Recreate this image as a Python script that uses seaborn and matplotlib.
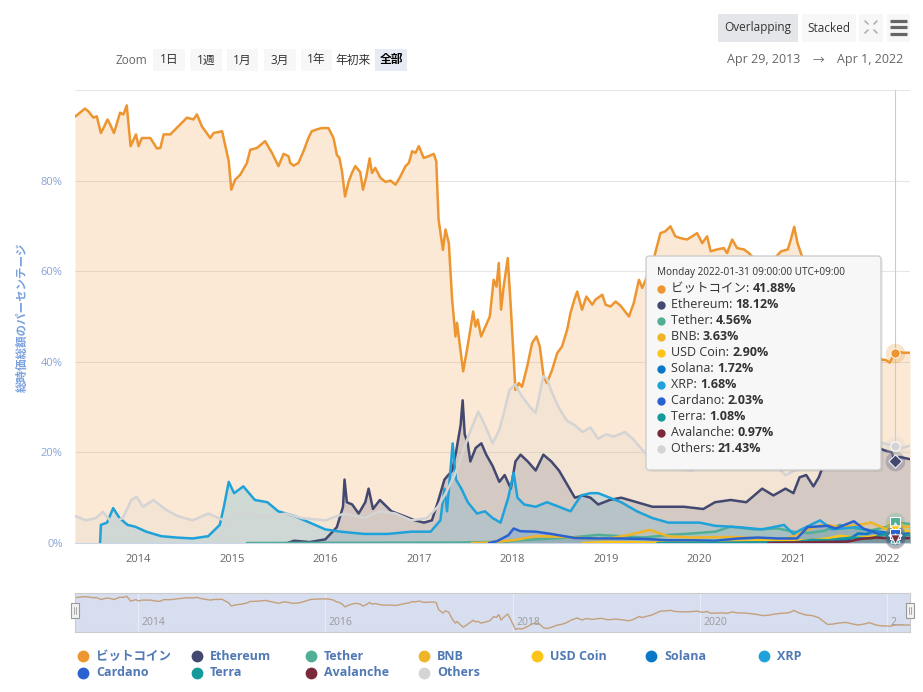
import numpy as np
import pandas as pd
import matplotlib
matplotlib.use('Agg')
import matplotlib.pyplot as plt
import matplotlib.dates as mdates
from matplotlib.patches import Rectangle, FancyBboxPatch
import seaborn as sns

sns.set_style('white')
plt.rcParams['font.family'] = ['Open Sans', 'Noto Sans CJK JP', 'DejaVu Sans']

# ---------------- data: share of total market cap (%) ----------------
btc_dates = ['2013-04-29', '2013-06-07', '2013-06-20', '2013-07-10', '2013-07-23', '2013-08-08',
             '2013-08-18', '2013-09-03', '2013-09-13', '2013-09-28', '2013-10-22', '2013-11-04',
             '2013-11-17', '2013-12-02', '2013-12-23', '2014-01-02', '2014-01-15', '2014-02-17',
             '2014-03-15', '2014-03-28', '2014-04-10', '2014-05-06', '2014-06-14', '2014-07-10',
             '2014-08-04', '2014-08-18', '2014-09-06', '2014-10-09', '2014-10-22', '2014-11-24',
             '2014-12-20', '2014-12-30', '2015-01-14', '2015-02-03', '2015-03-01', '2015-03-14',
             '2015-04-09', '2015-05-11', '2015-06-07', '2015-07-02', '2015-07-22', '2015-08-10',
             '2015-08-17', '2015-08-30', '2015-09-18', '2015-10-08', '2015-10-27', '2015-11-09',
             '2015-11-29', '2015-12-18', '2016-01-13', '2016-02-02', '2016-02-15', '2016-02-25',
             '2016-03-06', '2016-03-18', '2016-04-01', '2016-04-14', '2016-04-27', '2016-05-16',
             '2016-05-27', '2016-06-09', '2016-06-22', '2016-07-01', '2016-07-14', '2016-08-03',
             '2016-08-23', '2016-09-11', '2016-10-01', '2016-10-20', '2016-11-09', '2016-11-22',
             '2016-12-05', '2016-12-18', '2016-12-31', '2017-01-19', '2017-02-08', '2017-02-27',
             '2017-03-09', '2017-03-18', '2017-04-04', '2017-04-14', '2017-04-27', '2017-05-10',
             '2017-05-23', '2017-05-29', '2017-06-08', '2017-06-22', '2017-07-07', '2017-07-20',
             '2017-07-31', '2017-08-09', '2017-08-18', '2017-08-31', '2017-09-17', '2017-10-04',
             '2017-10-19', '2017-10-30', '2017-11-08', '2017-11-17', '2017-11-27', '2017-12-13',
             '2017-12-24', '2018-01-12', '2018-01-25', '2018-02-07', '2018-02-27', '2018-03-18',
             '2018-04-04', '2018-04-17', '2018-05-02', '2018-05-15', '2018-06-04', '2018-06-24',
             '2018-07-13', '2018-08-02', '2018-08-15', '2018-08-30', '2018-09-10', '2018-09-29',
             '2018-10-16', '2018-11-08', '2018-11-20', '2018-12-17', '2018-12-30', '2019-01-18',
             '2019-02-07', '2019-02-26', '2019-03-31', '2019-04-19', '2019-05-09', '2019-05-22',
             '2019-06-10', '2019-06-29', '2019-07-12', '2019-08-01', '2019-08-20', '2019-09-09',
             '2019-09-28', '2019-10-18', '2019-11-13', '2019-12-03', '2019-12-22', '2020-01-11',
             '2020-01-30', '2020-02-13', '2020-03-09', '2020-04-04', '2020-04-17', '2020-05-07',
             '2020-05-26', '2020-06-22', '2020-07-11', '2020-08-12', '2020-09-05', '2020-09-28',
             '2020-10-22', '2020-11-14', '2020-12-10', '2020-12-22', '2021-01-04', '2021-01-17',
             '2021-01-30', '2021-02-20', '2021-03-15', '2021-04-10', '2021-04-28', '2021-05-15',
             '2021-06-05', '2021-07-01', '2021-07-25', '2021-08-20', '2021-09-10', '2021-10-05',
             '2021-10-25', '2021-11-20', '2021-12-10', '2021-12-28', '2022-01-12', '2022-01-31',
             '2022-02-15', '2022-03-05', '2022-04-01']
btc_pct = [94.1, 95.9, 95.3, 93.9, 94.2, 90.5, 91.6, 93.5, 92.4, 90.5, 95.0, 94.6,
           96.6, 87.6, 90.2, 87.6, 89.4, 89.4, 87.1, 87.2, 90.2, 90.2, 92.4, 93.9,
           93.5, 94.6, 92.0, 89.4, 90.5, 90.9, 84.3, 78.0, 80.2, 81.3, 83.9, 86.8,
           87.2, 88.7, 86.1, 83.2, 85.9, 85.4, 83.9, 83.3, 83.9, 86.5, 89.4, 90.9,
           91.3, 91.6, 91.6, 89.4, 85.7, 85.0, 82.1, 76.5, 79.8, 81.7, 83.2, 81.9,
           78.0, 80.9, 84.9, 81.7, 82.8, 80.6, 79.7, 80.0, 79.1, 80.9, 83.2, 83.9,
           86.5, 86.1, 87.6, 85.0, 85.4, 85.9, 84.3, 71.4, 64.7, 69.2, 66.2, 53.7,
           45.6, 48.6, 44.1, 37.9, 42.7, 47.1, 51.1, 47.8, 49.3, 45.6, 47.8, 50.0,
           58.1, 56.6, 61.8, 51.5, 56.6, 62.9, 53.0, 33.8, 35.3, 34.5, 39.0, 44.1,
           45.6, 43.4, 36.8, 35.3, 38.2, 41.9, 43.4, 47.1, 50.8, 53.7, 55.5, 51.5,
           54.4, 52.6, 53.7, 54.8, 52.6, 52.2, 53.3, 52.4, 50.0, 53.0, 58.1, 56.3,
           58.9, 61.1, 64.1, 68.4, 68.8, 69.9, 67.7, 67.3, 67.0, 67.7, 68.4, 66.2,
           67.7, 64.4, 64.8, 65.1, 64.0, 67.0, 65.1, 64.8, 64.0, 62.1, 59.9, 60.8,
           63.0, 64.4, 64.8, 67.0, 69.8, 66.2, 64.0, 61.0, 60.0, 56.0, 49.0, 43.0,
           44.0, 46.0, 47.0, 44.0, 42.0, 44.0, 46.5, 42.0, 40.5, 40.4, 39.8, 41.88,
           42.2, 42.0, 42.0]

eth_dates = ['2015-08-07', '2015-09-01', '2015-11-01', '2016-01-01', '2016-02-15', '2016-03-10',
             '2016-03-16', '2016-03-25', '2016-04-15', '2016-05-10', '2016-06-05', '2016-06-18',
             '2016-07-05', '2016-08-01', '2016-09-15', '2016-11-01', '2016-12-15', '2017-01-20',
             '2017-02-20', '2017-03-15', '2017-04-10', '2017-05-10', '2017-05-25', '2017-06-12',
             '2017-06-20', '2017-06-28', '2017-07-10', '2017-07-20', '2017-08-10', '2017-09-01',
             '2017-09-20', '2017-10-15', '2017-11-10', '2017-12-01', '2017-12-25', '2018-01-12',
             '2018-02-01', '2018-03-01', '2018-04-01', '2018-05-01', '2018-06-01', '2018-07-01',
             '2018-08-01', '2018-09-01', '2018-10-01', '2018-11-01', '2018-12-01', '2019-01-15',
             '2019-03-01', '2019-05-01', '2019-07-01', '2019-09-01', '2019-11-01', '2020-01-15',
             '2020-03-01', '2020-05-01', '2020-07-01', '2020-09-01', '2020-10-15', '2020-12-01',
             '2021-01-01', '2021-01-25', '2021-02-20', '2021-03-20', '2021-04-10', '2021-05-10',
             '2021-06-01', '2021-07-15', '2021-09-01', '2021-11-10', '2021-12-20', '2022-01-20',
             '2022-01-31', '2022-02-20', '2022-04-01']
eth_pct = [0.0, 0.5, 0.2, 0.8, 3.5, 8.0, 14.0, 9.0, 8.5, 6.5, 9.0, 12.0,
           7.5, 9.5, 7.0, 6.0, 5.0, 4.5, 5.0, 9.0, 14.0, 16.0, 20.0, 26.0,
           31.5, 24.0, 22.0, 18.0, 21.0, 22.0, 19.5, 17.0, 13.5, 15.0, 12.0, 18.0,
           19.5, 18.0, 16.0, 19.5, 18.0, 16.0, 13.0, 10.0, 10.5, 10.0, 8.5, 9.5,
           10.0, 9.0, 8.0, 8.0, 8.0, 7.5, 9.0, 9.5, 9.0, 12.0, 10.5, 12.0,
           11.0, 14.5, 15.0, 12.5, 14.5, 19.0, 18.0, 17.0, 20.0, 21.5, 20.5, 20.0,
           18.12, 19.0, 18.5]

usdt_dates = ['2015-03-01', '2017-06-01', '2017-12-01', '2018-02-01', '2018-06-01', '2018-09-01',
              '2018-12-01', '2019-03-01', '2019-06-01', '2019-09-01', '2019-12-01', '2020-03-01',
              '2020-05-01', '2020-08-01', '2020-11-01', '2021-01-01', '2021-03-01', '2021-05-01',
              '2021-07-01', '2021-09-01', '2021-11-01', '2022-01-01', '2022-01-31', '2022-04-01']
usdt_pct = [0.0, 0.1, 0.3, 0.6, 1.0, 1.3, 1.8, 1.5, 1.2, 1.8, 2.1, 2.5,
            3.6, 3.0, 3.2, 2.5, 2.2, 2.7, 4.0, 3.2, 2.8, 3.6, 4.56, 4.2]

bnb_dates = ['2017-07-25', '2017-10-01', '2018-01-15', '2018-04-01', '2018-07-01', '2018-10-01',
             '2019-01-01', '2019-04-01', '2019-06-20', '2019-09-01', '2019-12-01', '2020-03-01',
             '2020-06-01', '2020-09-01', '2020-12-01', '2021-02-20', '2021-05-01', '2021-07-01',
             '2021-09-01', '2021-11-01', '2022-01-01', '2022-01-31', '2022-04-01']
bnb_pct = [0.0, 0.1, 0.7, 1.5, 1.4, 1.1, 0.9, 1.8, 2.9, 1.5, 1.2, 1.3,
           1.3, 0.9, 0.8, 2.9, 4.1, 3.5, 3.9, 4.5, 3.0, 3.63, 3.6]

usdc_dates = ['2018-10-01', '2019-01-01', '2019-07-01', '2020-01-01', '2020-07-01', '2020-11-01',
              '2021-01-01', '2021-03-01', '2021-05-15', '2021-07-01', '2021-09-01', '2021-11-01',
              '2022-01-01', '2022-01-31', '2022-04-01']
usdc_pct = [0.0, 0.2, 0.1, 0.2, 0.4, 0.7, 0.5, 0.6, 1.0, 1.6, 1.2, 1.4, 2.2, 2.90, 2.6]

sol_dates = ['2020-04-10', '2020-08-01', '2020-11-01', '2021-01-01', '2021-03-15', '2021-06-01',
             '2021-08-01', '2021-09-10', '2021-10-15', '2021-11-10', '2021-12-20', '2022-01-31',
             '2022-04-01']
sol_pct = [0.0, 0.1, 0.1, 0.1, 0.3, 0.5, 0.6, 2.1, 2.0, 2.6, 2.4, 1.72, 2.1]

xrp_dates = ['2013-08-05', '2013-08-08', '2013-09-01', '2013-09-25', '2013-10-20', '2013-11-20',
             '2013-12-20', '2014-02-01', '2014-04-01', '2014-06-01', '2014-08-01', '2014-10-01',
             '2014-11-15', '2014-12-01', '2014-12-20', '2015-01-10', '2015-02-15', '2015-04-01',
             '2015-05-20', '2015-07-01', '2015-09-01', '2015-11-01', '2016-01-01', '2016-03-01',
             '2016-06-01', '2016-09-01', '2016-12-01', '2017-02-15', '2017-03-25', '2017-04-10',
             '2017-04-20', '2017-05-12', '2017-05-25', '2017-06-15', '2017-07-10', '2017-08-15',
             '2017-09-15', '2017-10-15', '2017-11-15', '2017-12-15', '2018-01-05', '2018-01-20',
             '2018-02-15', '2018-04-01', '2018-05-15', '2018-07-01', '2018-08-15', '2018-09-25',
             '2018-11-01', '2018-12-01', '2019-01-15', '2019-03-01', '2019-05-01', '2019-07-01',
             '2019-09-01', '2019-11-01', '2020-01-01', '2020-03-01', '2020-06-01', '2020-09-01',
             '2020-11-25', '2021-01-01', '2021-02-01', '2021-04-15', '2021-06-01', '2021-09-01',
             '2021-11-01', '2022-01-31', '2022-04-01']
xrp_pct = [0.0, 4.0, 4.5, 7.7, 5.5, 4.0, 3.6, 2.5, 1.5, 1.2, 1.0, 1.5,
           4.0, 8.0, 13.5, 11.0, 12.5, 9.5, 9.0, 7.0, 6.0, 4.5, 3.0, 2.5,
           2.0, 2.0, 2.5, 2.5, 5.0, 12.0, 7.0, 22.0, 14.0, 12.0, 9.0, 6.5,
           7.0, 5.5, 4.5, 10.0, 15.5, 10.0, 8.5, 8.0, 9.0, 8.0, 7.0, 10.5,
           11.0, 11.0, 10.0, 9.0, 7.0, 5.5, 4.5, 4.5, 4.5, 3.8, 3.5, 3.0,
           4.0, 2.0, 3.0, 5.0, 3.0, 3.5, 2.5, 1.68, 1.9]

ada_dates = ['2017-10-01', '2017-11-01', '2017-12-15', '2018-01-05', '2018-02-01', '2018-04-01',
             '2018-06-01', '2018-09-01', '2018-12-01', '2019-03-01', '2019-06-01', '2019-09-01',
             '2019-12-01', '2020-03-01', '2020-06-01', '2020-08-15', '2020-11-01', '2021-01-15',
             '2021-02-25', '2021-05-15', '2021-06-15', '2021-08-25', '2021-10-01', '2021-12-01',
             '2022-01-31', '2022-04-01']
ada_pct = [0.0, 0.4, 1.7, 3.2, 2.6, 2.5, 2.0, 1.1, 1.0, 1.0, 0.9, 0.6,
           0.6, 0.5, 1.0, 1.2, 1.0, 1.0, 3.5, 3.8, 3.2, 4.8, 3.2, 2.0,
           2.03, 2.0]

luna_dates = ['2019-07-20', '2020-01-01', '2020-07-01', '2021-01-01', '2021-03-15', '2021-05-15',
              '2021-08-15', '2021-11-01', '2021-12-25', '2022-01-31', '2022-04-01']
luna_pct = [0.0, 0.05, 0.05, 0.1, 0.7, 0.6, 1.2, 1.0, 2.0, 1.08, 1.9]

avax_dates = ['2020-09-25', '2021-01-01', '2021-04-01', '2021-08-01', '2021-09-20', '2021-11-20',
              '2022-01-31', '2022-04-01']
avax_pct = [0.0, 0.1, 0.2, 0.3, 0.9, 1.2, 0.97, 1.1]

other_dates = ['2013-04-29', '2013-06-10', '2013-07-20', '2013-08-15', '2013-09-20', '2013-11-01',
               '2013-12-05', '2013-12-25', '2014-01-20', '2014-03-01', '2014-04-15', '2014-06-01',
               '2014-08-01', '2014-10-01', '2014-12-01', '2015-02-01', '2015-04-01', '2015-06-01',
               '2015-08-01', '2015-10-01', '2016-01-01', '2016-03-15', '2016-06-01', '2016-08-01',
               '2016-10-01', '2016-12-01', '2017-02-01', '2017-03-15', '2017-04-15', '2017-05-20',
               '2017-06-20', '2017-07-15', '2017-08-20', '2017-09-15', '2017-10-15', '2017-11-10',
               '2017-11-28', '2017-12-20', '2018-01-10', '2018-02-05', '2018-03-10', '2018-04-01',
               '2018-05-01', '2018-05-15', '2018-06-05', '2018-07-01', '2018-08-01', '2018-09-01',
               '2018-10-01', '2018-11-01', '2018-12-01', '2019-01-01', '2019-02-01', '2019-03-15',
               '2019-04-15', '2019-06-15', '2019-09-01', '2019-12-01', '2020-03-01', '2020-06-01',
               '2020-09-01', '2020-12-01', '2021-02-15', '2021-05-15', '2021-08-01', '2021-10-15',
               '2021-12-20', '2022-01-31', '2022-03-01', '2022-04-01']
other_pct = [6.0, 5.0, 5.5, 6.9, 4.5, 5.5, 9.5, 10.2, 8.0, 9.5, 7.5, 6.0,
             5.0, 6.5, 5.0, 7.0, 6.0, 6.0, 6.5, 5.5, 5.0, 6.5, 5.5, 7.0,
             6.5, 5.0, 5.5, 8.0, 11.0, 15.0, 20.0, 24.0, 29.0, 26.0, 22.0, 25.0,
             28.7, 33.8, 35.0, 32.5, 30.0, 28.7, 36.8, 36.3, 33.0, 29.8, 27.0, 26.0,
             24.5, 25.5, 23.0, 24.0, 23.5, 24.5, 23.0, 19.0, 16.5, 16.0, 17.5, 17.0,
             20.0, 15.0, 17.0, 25.0, 22.0, 22.5, 22.0, 21.43, 21.0, 21.5]

coin_names = ['ビットコイン', 'Ethereum', 'Tether', 'BNB', 'USD Coin', 'Solana', 'XRP',
              'Cardano', 'Terra', 'Avalanche', 'Others']
coin_colors = ['#ed9530', '#434870', '#50af95', '#f0b429', '#fcc419', '#0a78c8', '#1fa2d9',
               '#2a62d0', '#16999a', '#7b2a3b', '#d4d4d4']
coin_markers = ['o', 'D', 's', '^', 'v', 'o', 'D', 's', '^', 'v', 'o']

series = [(btc_dates, btc_pct), (eth_dates, eth_pct), (usdt_dates, usdt_pct),
          (bnb_dates, bnb_pct), (usdc_dates, usdc_pct), (sol_dates, sol_pct),
          (xrp_dates, xrp_pct), (ada_dates, ada_pct), (luna_dates, luna_pct),
          (avax_dates, avax_pct), (other_dates, other_pct)]

hover_day = '2022-01-31'
range_start, range_end = '2013-04-29', '2022-04-01'

frames = []
for name, (d, v) in zip(coin_names, series):
    frames.append(pd.DataFrame({'date': pd.to_datetime(d), 'pct': v, 'coin': name}))
df = pd.concat(frames, ignore_index=True)
palette = dict(zip(coin_names, coin_colors))

# ---------------- figure / layout in pixels ----------------
W, H = 923, 692
fig = plt.figure(figsize=(W / 100, H / 100), dpi=100)


def px_rect(l, t, r, b):
    return [l / W, 1 - b / H, (r - l) / W, (b - t) / H]


ax = fig.add_axes(px_rect(75, 90, 910, 543))
x0, x1 = pd.Timestamp(range_start), pd.Timestamp(range_end)

# fills then lines
for name, color in zip(coin_names, coin_colors):
    sub = df[df.coin == name]
    ax.fill_between(sub.date, sub.pct, 0, color=color, alpha=0.2, lw=0, zorder=2)
sns.lineplot(data=df, x='date', y='pct', hue='coin', hue_order=coin_names, palette=palette,
             estimator=None, sort=False, lw=1.8, legend=False, ax=ax, zorder=3)

ax.set_xlim(x0, x1)
ax.set_ylim(0, 100)
ax.set_xlabel('')
ax.set_ylabel('')
ax.set_yticks([0, 20, 40, 60, 80, 100])
ax.set_yticklabels(['0%', '20%', '40%', '60%', '80%', ''])
ax.tick_params(axis='y', length=0, pad=9, labelsize=8, labelcolor='#8aa4d4')
ax.xaxis.set_major_locator(mdates.YearLocator())
ax.xaxis.set_major_formatter(mdates.DateFormatter('%Y'))
ax.tick_params(axis='x', length=7, width=0.8, color='#ccd6eb', pad=1, labelsize=8,
               labelcolor='#666666')
ax.grid(axis='y', color='#e6e6e6', lw=0.8)
ax.grid(axis='x', visible=False)
for s in ['top', 'left', 'right']:
    ax.spines[s].set_visible(False)
ax.spines['bottom'].set_color('#ccd6eb')
ax.set_facecolor('white')

# hover crosshair + markers
hd = pd.Timestamp(hover_day)
ax.axvline(hd, color='#cccccc', lw=0.8, zorder=4)
hover_vals = []
for name, (d, v), color, mk in zip(coin_names, series, coin_colors, coin_markers):
    val = v[d.index(hover_day)]
    hover_vals.append(val)
    ax.scatter([hd], [val], s=200, color=color, alpha=0.25, lw=0, zorder=5, clip_on=False)
    ax.scatter([hd], [val], s=45, color=color, marker=mk, edgecolor='white', lw=0.7,
               zorder=6, clip_on=False)

# ---------------- navigator ----------------
nav = fig.add_axes(px_rect(75, 593, 910, 632))
nav.set_facecolor('#d7deef')
btc_df = df[df.coin == 'ビットコイン']
for yr in range(2014, 2023, 2):
    nav.axvline(pd.Timestamp(f'{yr}-01-01'), color='#e8ecf6', lw=0.9, zorder=1)
    lab = str(yr) if yr < 2022 else '2…'
    nav.annotate(lab, xy=(pd.Timestamp(f'{yr}-01-01'), 0), xycoords=('data', 'axes fraction'),
                 xytext=(2.5, 3), textcoords='offset points', fontsize=7.5, color='#9a9a9a',
                 ha='left', va='bottom', annotation_clip=False, zorder=3)
sns.lineplot(x=btc_df.date, y=btc_df.pct, color='#c4a07c', lw=1.0, ax=nav, zorder=2)
lo, hi = min(btc_pct), max(btc_pct)
span = hi - lo
nav.set_ylim(lo - span * 0.08, hi + span * 0.1)
nav.set_xlim(x0, x1)
nav.set_xticks([])
nav.set_yticks([])
nav.set_xlabel('')
nav.set_ylabel('')
for s in nav.spines.values():
    s.set_color('#cccccc')
    s.set_linewidth(0.8)

# ---------------- overlay (UI chrome) in pixel coordinates ----------------
ov = fig.add_axes([0, 0, 1, 1], zorder=10)
ov.set_xlim(0, W)
ov.set_ylim(H, 0)
ov.axis('off')
ov.patch.set_alpha(0)

grey = '#666666'
ov.text(116, 60, 'Zoom', fontsize=8.5, color=grey, va='center', ha='left')
buttons = [('1日', 153, 185), ('1週', 190, 222), ('1月', 227, 258), ('3月', 264, 296),
           ('1年', 301, 332)]
for lab, l, r in buttons:
    ov.add_patch(Rectangle((l, 49), r - l, 22, facecolor='#f7f7f7', edgecolor='none'))
    ov.text((l + r) / 2, 60, lab, fontsize=8.5, color='#333333', ha='center', va='center')
ov.text(353, 60, '年初来', fontsize=8.5, color='#333333', ha='center', va='center')
ov.add_patch(Rectangle((375, 49), 32, 22, facecolor='#e6ebf5', edgecolor='none'))
ov.text(391, 60, '全部', fontsize=8.5, color='#000000', ha='center', va='center',
        fontweight='bold')

ov.add_patch(Rectangle((718, 14), 80, 28, facecolor='#e4e6ea', edgecolor='none'))
ov.text(758, 28, 'Overlapping', fontsize=8.5, color='#333333', ha='center', va='center')
ov.add_patch(Rectangle((802, 14), 54, 28, facecolor='#f7f7f7', edgecolor='none'))
ov.text(829, 28, 'Stacked', fontsize=8.5, color='#333333', ha='center', va='center')
ov.add_patch(Rectangle((859, 14), 24, 28, facecolor='#f7f7f7', edgecolor='none'))
ov.add_patch(Rectangle((887, 14), 23, 28, facecolor='#f7f7f7', edgecolor='none'))
for (cx, cy, dx, dy) in [(865, 21, 1, 1), (877, 21, -1, 1), (865, 33, 1, -1), (877, 33, -1, -1)]:
    ov.plot([cx, cx + 3 * dx], [cy, cy + 3 * dy], color='#b0b0b0', lw=1.2,
            solid_capstyle='round')
for yy in (20.5, 27, 33.5):
    ov.plot([890, 907], [yy, yy], color='#666666', lw=2.3, solid_capstyle='butt')

t_start = ov.text(727, 60, pd.Timestamp(range_start).strftime('%b %-d, %Y'), fontsize=9,
                  color=grey, ha='left', va='center')
t_arrow = ov.annotate('→', xy=(1, 0.5), xycoords=t_start, xytext=(9, 0),
                      textcoords='offset points', fontsize=8.5, color=grey, ha='left',
                      va='center')
ov.annotate(pd.Timestamp(range_end).strftime('%b %-d, %Y'), xy=(1, 0.5), xycoords=t_arrow,
            xytext=(9, 0), textcoords='offset points', fontsize=9, color=grey,
            ha='left', va='center')

ov.text(22, 317, '総時価総額のパーセンテージ', rotation=90, fontsize=8.3, color='#7aa1de',
        ha='center', va='center', fontweight='bold')

# tooltip
ov.add_patch(FancyBboxPatch((648, 258), 235, 214, boxstyle='round,pad=0,rounding_size=3',
                            facecolor='#000000', alpha=0.06, edgecolor='none'))
ov.add_patch(FancyBboxPatch((646, 256), 235, 214, boxstyle='round,pad=0,rounding_size=3',
                            facecolor='#f7f7f7', edgecolor='#c9c9c9', lw=0.9))
ov.text(657, 273, hd.strftime('%A %Y-%m-%d') + ' 09:00:00 UTC+09:00', fontsize=7.2,
        color='#333333', ha='left', va='center')
for i, (name, color, val) in enumerate(zip(coin_names, coin_colors, hover_vals)):
    yy = 289 + 16 * i
    ov.plot([661], [yy], marker='o', ms=6, color=color, mec='none')
    t = ov.text(671, yy, f'{name}: ', fontsize=9, color='#333333', ha='left', va='center')
    ov.annotate(f'{val:.2f}%', xy=(1, 0.5), xycoords=t, fontsize=9, color='#333333',
                ha='left', va='center', fontweight='bold')

# navigator handles
for hx in (75, 910):
    ov.add_patch(Rectangle((hx - 4, 603), 8, 15, facecolor='#f2f2f2', edgecolor='#999999',
                           lw=0.8))
    for gx in (hx - 1.2, hx + 1.2):
        ov.plot([gx, gx], [607, 614], color='#999999', lw=0.6)

# legend
legend_x = [83, 197, 311, 424, 537, 651, 764]
for i, (name, color) in enumerate(zip(coin_names, coin_colors)):
    row, col = divmod(i, 7)
    yy = 656 + 17 * row
    ov.plot([legend_x[col]], [yy], marker='o', ms=8.5, color=color, mec='none')
    ov.text(legend_x[col] + 13, yy, name, fontsize=9, color='#5079b5', ha='left',
            va='center', fontweight='bold')

fig.savefig('out.png', dpi=100)
